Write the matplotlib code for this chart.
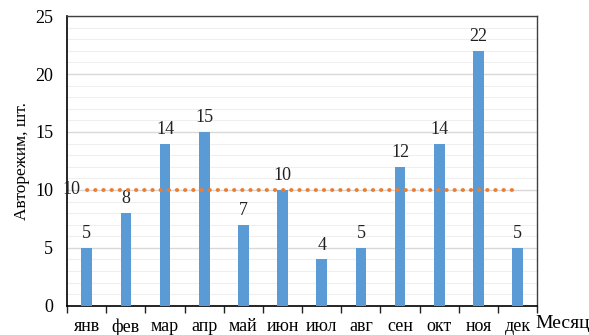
import matplotlib.pyplot as plt
import numpy as np

months = ["янв", "фев", "мар", "апр", "май", "июн", "июл", "авг", "сен", "окт", "ноя", "дек"]
counts = [5, 8, 14, 15, 7, 10, 4, 5, 12, 14, 22, 5]
norm_level = 10

plt.rcParams['font.family'] = ['Liberation Serif', 'DejaVu Serif']
plt.rcParams['font.size'] = 13

fig = plt.figure(figsize=(5.89, 3.35), dpi=100)
ax = fig.add_axes([0.114, 0.087, 0.798, 0.865])

x = np.arange(len(months))
ax.bar(x, counts, width=0.27, color='#5B9BD5', zorder=3)
for xi, v in zip(x, counts):
    ax.text(xi, v + 0.5, str(v), ha='center', va='bottom', fontsize=13, color='#222222', zorder=4)

# reference line
ax.plot(x, [norm_level] * len(x), color='#ED7D31', linestyle=(0, (0.1, 2.0)),
        linewidth=2.8, dash_capstyle='round', zorder=4)
ax.text(x[0] - 0.15, norm_level, str(norm_level), ha='right', va='center', fontsize=13, color='#222222', zorder=4)

ax.set_xlim(-0.5, len(months) - 0.5)
ax.set_ylim(0, 25)
ax.set_yticks(range(0, 26, 5))
ax.set_yticks(range(0, 26, 1), minor=True)
ax.yaxis.grid(True, which='major', color='#d9d9d9', linewidth=1.0, zorder=0)
ax.yaxis.grid(True, which='minor', color='#efefef', linewidth=0.8, zorder=0)
ax.tick_params(axis='y', which='both', length=0, pad=10, labelsize=13)

# category labels centered, ticks between categories
ax.set_xticks(x)
ax.set_xticklabels(months)
ax.tick_params(axis='x', which='major', length=0, pad=9, labelsize=13)
ax.set_xticks(np.arange(-0.5, len(months), 1), minor=True)
ax.tick_params(axis='x', which='minor', length=5, width=1, color='#222222', direction='out')

for s in ['top', 'right']:
    ax.spines[s].set_color('#404040')
    ax.spines[s].set_linewidth(1.0)
for s in ['left', 'bottom']:
    ax.spines[s].set_color('#000000')
    ax.spines[s].set_linewidth(1.2)

ax.set_ylabel("Авторежим, шт.", fontsize=12.5, labelpad=4)
fig.text(0.955, 0.035, "Месяц", ha='center', va='center', fontsize=14)

fig.savefig("out.png", dpi=100)
